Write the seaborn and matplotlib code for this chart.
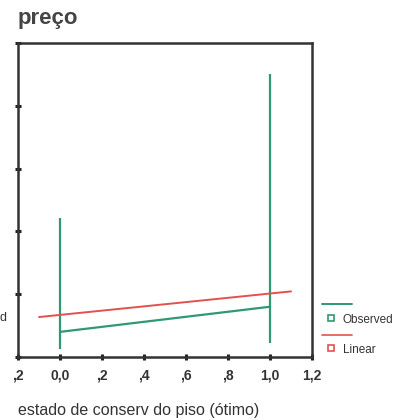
import numpy as np
import pandas as pd
import seaborn as sns
import matplotlib.pyplot as plt
from matplotlib.lines import Line2D

# observed values per group (x = 0 / 1)
obs_x = [0.0, 1.0]
obs_min = [0.13, 0.22]
obs_max = [2.21, 4.51]
obs_mean = [0.40, 0.80]

# linear fit, drawn from x = -0.1 to 1.1
lin_x = [-0.1, 1.1]
lin_intercept = 0.67
lin_slope = 0.34

x_ticks = [-0.2, 0.0, 0.2, 0.4, 0.6, 0.8, 1.0, 1.2]
x_tick_labels = [",2", "0,0", ",2", ",4", ",6", ",8", "1,0", "1,2"]
y_ticks = [0, 1, 2, 3, 4, 5]

green = "#2f9a72"
red = "#e2514f"
dark = "#333333"

sns.set_style("ticks")
plt.rcParams['font.family'] = ['Liberation Sans', 'DejaVu Sans']

fig = plt.figure(figsize=(4.1, 4.2), dpi=100)
ax = fig.add_axes([0.044, 0.15, 0.717, 0.748])

obs = pd.DataFrame({"x": obs_x, "mean": obs_mean})
lin = pd.DataFrame({"x": lin_x})
lin["y"] = lin_intercept + lin_slope * lin["x"]

ax.vlines(obs_x, obs_min, obs_max, color=green, lw=1.6)
sns.lineplot(data=obs, x="x", y="mean", color=green, lw=1.6, ax=ax)
sns.lineplot(data=lin, x="x", y="y", color=red, lw=1.4, ax=ax)

ax.set_xlim(-0.2, 1.2)
ax.set_ylim(0, 5)
ax.set_xticks(x_ticks)
ax.set_xticklabels(x_tick_labels, fontsize=10, color=dark, fontweight="bold")
ax.set_yticks(y_ticks)
ax.set_yticklabels([])
ax.tick_params(axis="both", direction="inout", length=4, width=2.2, color="#222222", pad=6)
for s in ax.spines.values():
    s.set_visible(True)
    s.set_color(dark)
    s.set_linewidth(1.8)
ax.set_xlabel("")
ax.set_ylabel("")

fig.text(0.044, 0.957, "preço", fontsize=16, fontweight="bold", color="#444444", va="center")
fig.text(0.044, 0.022, "estado de conserv do piso (ótimo)", fontsize=11.5, color=dark, va="center")
fig.text(0.0, 0.243, "d", fontsize=9, color=dark, va="center")

# legend drawn in figure pixels
def fx(px):
    return px / 410

def fy(py):
    return 1 - py / 420

fig.add_artist(Line2D([fx(322), fx(352)], [fy(304), fy(304)], color=green, lw=1.4))
fig.add_artist(Line2D([fx(331)], [fy(318)], marker="s", ms=4, mfc="none", mec=green, mew=1.2, ls=""))
fig.text(fx(343), fy(320), "Observed", fontsize=8.5, color=dark, va="center")
fig.add_artist(Line2D([fx(322), fx(352)], [fy(335), fy(335)], color=red, lw=1.2))
fig.add_artist(Line2D([fx(331)], [fy(348)], marker="s", ms=4, mfc="none", mec=red, mew=1.2, ls=""))
fig.text(fx(343), fy(350), "Linear", fontsize=8.5, color=dark, va="center")

fig.savefig("out.png", dpi=100)
